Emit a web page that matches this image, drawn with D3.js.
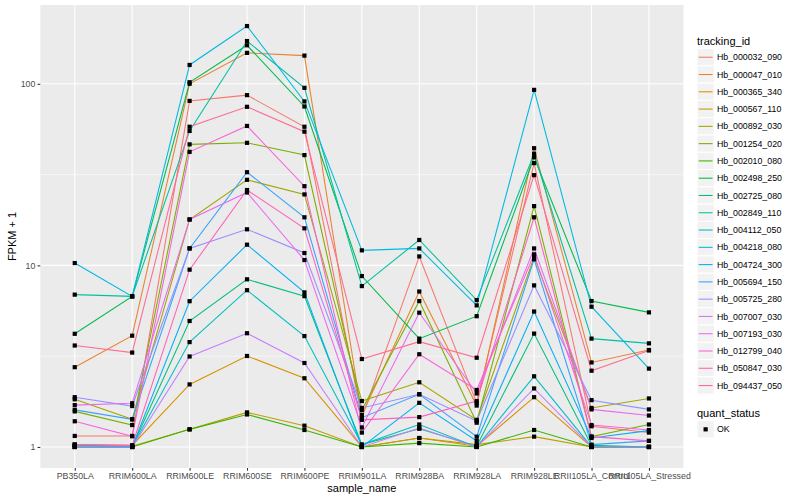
<!DOCTYPE html>
<html>
<head>
<meta charset="utf-8">
<script src="https://cdn.jsdelivr.net/npm/d3@7"></script>
<style>
  body { margin: 0; background: #fff; }
  text { font-family: "Liberation Sans", Arial, Helvetica, sans-serif; }
</style>
</head>
<body>
<svg id="chart" width="800" height="500"></svg>
<script>
// samples along the x axis
var samples = ["PB350LA", "RRIM600LA", "RRIM600LE", "RRIM600SE", "RRIM600PE", "RRIM901LA",
  "RRIM928BA", "RRIM928LA", "RRIM928LE", "RRII105LA_Control", "RRII105LA_Stressed"];

// one entry per gene, in legend order
var trackingIds = ["Hb_000032_090", "Hb_000047_010", "Hb_000365_340", "Hb_000567_110", "Hb_000892_030",
  "Hb_001254_020", "Hb_002010_080", "Hb_002498_250", "Hb_002725_080", "Hb_002849_110",
  "Hb_004112_050", "Hb_004218_080", "Hb_004724_300", "Hb_005694_150", "Hb_005725_280",
  "Hb_007007_030", "Hb_007193_030", "Hb_012799_040", "Hb_050847_030", "Hb_094437_050"];

// FPKM + 1, one row per tracking id, one column per sample
var fpkmPlusOne = [
  [1.15, 1.15, 80.5, 86.6, 58.0, 1.45, 11.2, 1.75, 36.6, 1.30, 1.20],
  [2.75, 4.10, 100, 148, 143, 1.50, 7.18, 1.69, 44.2, 2.92, 3.42],
  [1.03, 1.02, 2.21, 3.17, 2.39, 1.00, 1.12, 1.01, 1.88, 1.00, 1.00],
  [1.02, 1.01, 1.25, 1.55, 1.31, 1.00, 1.12, 1.03, 1.14, 1.00, 1.00],
  [1.83, 1.42, 17.9, 29.6, 24.6, 1.79, 2.27, 1.41, 11.1, 1.64, 1.85],
  [1.57, 1.32, 46.4, 47.3, 40.5, 1.60, 6.36, 1.36, 21.2, 1.14, 1.33],
  [1.00, 1.00, 1.25, 1.51, 1.24, 1.00, 1.05, 1.00, 1.24, 1.00, 1.00],
  [4.20, 6.75, 102, 163, 75.0, 8.73, 3.95, 5.25, 39.4, 6.36, 5.51],
  [1.00, 1.00, 4.94, 8.38, 6.77, 1.03, 1.26, 1.01, 4.21, 1.02, 1.00],
  [6.90, 6.75, 55.0, 172, 95.0, 7.69, 13.8, 6.44, 41.2, 3.95, 3.72],
  [1.00, 1.00, 3.78, 7.30, 4.08, 1.03, 1.33, 1.00, 2.45, 1.00, 1.00],
  [10.3, 6.75, 127, 208, 80.0, 12.1, 12.4, 6.02, 92.6, 5.92, 2.70],
  [1.03, 1.00, 6.35, 13.0, 7.10, 1.00, 1.75, 1.08, 5.57, 1.12, 1.23],
  [1.60, 1.42, 12.4, 32.6, 18.4, 1.45, 1.95, 1.14, 10.8, 1.03, 1.08],
  [1.88, 1.68, 12.4, 15.8, 11.7, 1.64, 1.95, 1.39, 7.76, 1.81, 1.61],
  [1.00, 1.00, 3.15, 4.23, 2.90, 1.00, 1.27, 1.00, 2.10, 1.00, 1.00],
  [1.70, 1.74, 17.9, 25.2, 10.7, 1.28, 5.49, 1.97, 12.4, 1.61, 1.49],
  [1.385, 1.145, 42.2, 58.6, 27.3, 1.20, 3.24, 2.06, 11.5, 1.32, 1.24],
  [1.03, 1.02, 9.47, 26.0, 16.0, 1.41, 1.46, 1.79, 18.4, 1.14, 1.08],
  [3.62, 3.31, 58.0, 74.7, 54.5, 3.05, 3.80, 3.10, 31.4, 2.63, 3.40]
];

var yTicks = [1, 10, 100];
var yMinor = [Math.sqrt(10), Math.sqrt(1000)];
var quantStatus = ["OK"];

// ggplot default hue palette for 20 levels
var palette = ["#F8766D", "#EA8331", "#D89000", "#C09B00", "#A3A500", "#7CAE00", "#39B600",
  "#00BB4E", "#00BF7D", "#00C1A3", "#00BFC4", "#00BAE0", "#00B0F6", "#35A2FF", "#9590FF",
  "#C77CFF", "#E76BF3", "#FA62DB", "#FF62BC", "#FF6C91"];

var panel = {left: 40.3, right: 683.4, top: 5, bottom: 468};
var svg = d3.select("#chart");

var series = trackingIds.map(function(id, i) {
  return {id: id, values: fpkmPlusOne[i].map(function(v, j) { return {sample: samples[j], v: v}; })};
});

var x = d3.scalePoint().domain(samples).range([panel.left, panel.right]).padding(0.6);

// log10 scale expanded 5% each side, like ggplot
var allLogs = d3.merge(fpkmPlusOne).map(function(v) { return Math.log10(v); });
var lo = d3.min(allLogs), hi = d3.max(allLogs), pad = (hi - lo) * 0.05;
var y = d3.scaleLog().domain([Math.pow(10, lo - pad), Math.pow(10, hi + pad)])
  .range([panel.bottom, panel.top]);

var color = d3.scaleOrdinal().domain(trackingIds).range(palette);

/* panel background and grid */
svg.append("rect")
  .attr("x", panel.left).attr("y", panel.top)
  .attr("width", panel.right - panel.left).attr("height", panel.bottom - panel.top)
  .attr("fill", "#EBEBEB");

svg.selectAll(".minor").data(yMinor).enter().append("line")
  .attr("x1", panel.left).attr("x2", panel.right)
  .attr("y1", function(d) { return y(d); }).attr("y2", function(d) { return y(d); })
  .attr("stroke", "#fff").attr("stroke-width", 0.53);

svg.selectAll(".majorY").data(yTicks).enter().append("line")
  .attr("x1", panel.left).attr("x2", panel.right)
  .attr("y1", function(d) { return y(d); }).attr("y2", function(d) { return y(d); })
  .attr("stroke", "#fff").attr("stroke-width", 1.07);

svg.selectAll(".majorX").data(samples).enter().append("line")
  .attr("y1", panel.top).attr("y2", panel.bottom)
  .attr("x1", function(d) { return x(d); }).attr("x2", function(d) { return x(d); })
  .attr("stroke", "#fff").attr("stroke-width", 1.07);

/* lines then points */
var line = d3.line()
  .x(function(d) { return x(d.sample); })
  .y(function(d) { return y(d.v); });

svg.selectAll(".gene").data(series).enter().append("path")
  .attr("d", function(d) { return line(d.values); })
  .attr("fill", "none")
  .attr("stroke", function(d) { return color(d.id); })
  .attr("stroke-width", 1.07);

var pts = d3.merge(series.map(function(s) { return s.values; }));
svg.selectAll(".pt").data(pts).enter().append("rect")
  .attr("x", function(d) { return x(d.sample) - 2.1; })
  .attr("y", function(d) { return y(d.v) - 2.1; })
  .attr("width", 4.2).attr("height", 4.2)
  .attr("fill", "#000");

/* axes */
var yAxis = svg.append("g")
  .attr("transform", "translate(" + panel.left + ",0)")
  .call(d3.axisLeft(y).tickValues(yTicks).tickFormat(d3.format("d")).tickSize(2.74).tickPadding(2.2));
var xAxis = svg.append("g")
  .attr("transform", "translate(0," + panel.bottom + ")")
  .call(d3.axisBottom(x).tickSize(2.74).tickPadding(2.2));
[xAxis, yAxis].forEach(function(a) {
  a.select(".domain").remove();
  a.selectAll(".tick line").attr("stroke", "#333333").attr("stroke-width", 1.07);
  a.selectAll(".tick text").attr("fill", "#4D4D4D").style("font-size", "8.8px")
    .style("font-family", "'Liberation Sans', Arial, sans-serif");
});

svg.append("text")
  .attr("x", (panel.left + panel.right) / 2).attr("y", 492)
  .attr("text-anchor", "middle").style("font-size", "11px").attr("fill", "#000")
  .text("sample_name");
svg.append("text")
  .attr("transform", "translate(16," + ((panel.top + panel.bottom) / 2) + ") rotate(-90)")
  .attr("text-anchor", "middle").style("font-size", "11px").attr("fill", "#000")
  .text("FPKM + 1");

/* legends */
var keySize = 17.28, keyX = 697, keyTop = 48.6;
var legend = svg.append("g");
legend.append("text").attr("x", keyX).attr("y", 44.5)
  .style("font-size", "11px").attr("fill", "#000").text("tracking_id");

var keys = legend.selectAll(".key").data(trackingIds).enter().append("g")
  .attr("transform", function(d, i) { return "translate(" + keyX + "," + (keyTop + i * keySize) + ")"; });
keys.append("rect")
  .attr("width", keySize).attr("height", keySize)
  .attr("fill", "#F2F2F2").attr("stroke", "#fff").attr("stroke-width", 1.07);
keys.append("line")
  .attr("x1", 1.7).attr("x2", keySize - 1.7)
  .attr("y1", keySize / 2).attr("y2", keySize / 2)
  .attr("stroke", function(d) { return color(d); }).attr("stroke-width", 1.07);
keys.append("text")
  .attr("x", keySize + 2.6).attr("y", keySize / 2 + 3.1)
  .style("font-size", "8.8px").attr("fill", "#000")
  .text(function(d) { return d; });

var statusTop = 420.7;
legend.append("text").attr("x", keyX).attr("y", 416.5)
  .style("font-size", "11px").attr("fill", "#000").text("quant_status");
var sKeys = legend.selectAll(".skey").data(quantStatus).enter().append("g")
  .attr("transform", function(d, i) { return "translate(" + keyX + "," + (statusTop + i * keySize) + ")"; });
sKeys.append("rect")
  .attr("width", keySize).attr("height", keySize)
  .attr("fill", "#F2F2F2").attr("stroke", "#fff").attr("stroke-width", 1.07);
sKeys.append("rect")
  .attr("x", keySize / 2 - 2.1).attr("y", keySize / 2 - 2.1)
  .attr("width", 4.2).attr("height", 4.2).attr("fill", "#000");
sKeys.append("text")
  .attr("x", keySize + 2.6).attr("y", keySize / 2 + 3.1)
  .style("font-size", "8.8px").attr("fill", "#000")
  .text(function(d) { return d; });
</script>
</body>
</html>
